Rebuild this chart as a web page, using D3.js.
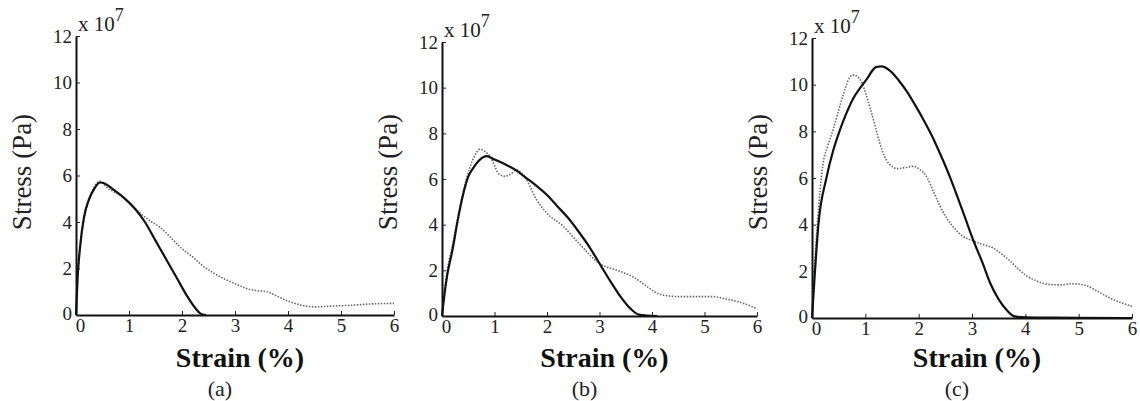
<!DOCTYPE html>
<html>
<head>
<meta charset="utf-8">
<script src="https://cdn.jsdelivr.net/npm/d3@7"></script>
<style>
  body { margin: 0; background: #fff; }
  svg text { font-family: 'Liberation Serif', 'DejaVu Serif', serif; }
</style>
</head>
<body>
<div id="chart"></div>
<script>
// tick values (strain in %, stress in units of 1e7 Pa)
const strainTicks = [0, 1, 2, 3, 4, 5, 6];
const stressTicks = [0, 2, 4, 6, 8, 10, 12];
const panelLabels = ["(a)", "(b)", "(c)"];

// [strain %, stress x1e7 Pa]
const solidA = [[0,0],[0.03,1.6],[0.08,3.0],[0.15,4.2],[0.25,5.0],[0.35,5.45],[0.45,5.7],[0.55,5.65],
  [0.7,5.4],[0.9,5.05],[1.1,4.6],[1.3,4.0],[1.5,3.2],[1.7,2.4],[1.9,1.6],[2.1,0.8],[2.25,0.3],[2.35,0.06],[2.45,0]];
const dottedA = [[0,0],[0.04,1.8],[0.1,3.3],[0.2,4.6],[0.3,5.3],[0.45,5.75],[0.6,5.45],[0.75,5.25],[0.9,5.05],
  [1.0,4.85],[1.2,4.4],[1.4,4.05],[1.6,3.75],[1.8,3.3],[2.0,2.85],[2.2,2.5],[2.4,2.1],[2.6,1.8],[2.8,1.55],
  [3.0,1.35],[3.2,1.15],[3.4,1.05],[3.6,1.0],[3.8,0.8],[4.0,0.6],[4.2,0.45],[4.5,0.35],[4.8,0.38],[5.2,0.42],
  [5.6,0.48],[6.0,0.5]];

const solidB = [[0,0],[0.05,1.0],[0.1,1.8],[0.2,2.9],[0.3,4.2],[0.4,5.3],[0.5,6.1],[0.6,6.5],[0.7,6.8],
  [0.85,7.0],[1.0,6.85],[1.2,6.65],[1.4,6.4],[1.6,6.05],[1.8,5.7],[2.0,5.3],[2.2,4.8],[2.4,4.3],[2.6,3.7],
  [2.8,3.05],[3.0,2.3],[3.2,1.55],[3.4,0.85],[3.6,0.3],[3.75,0.06],[3.9,0.02],[4.1,0]];
const dottedB = [[0,0],[0.05,1.1],[0.1,2.0],[0.2,3.1],[0.3,4.3],[0.4,5.4],[0.53,6.5],[0.62,7.0],[0.72,7.3],
  [0.82,7.2],[0.91,7.0],[1.0,6.6],[1.07,6.25],[1.2,6.12],[1.3,6.2],[1.42,6.4],[1.6,6.0],[1.8,5.1],[2.0,4.5],
  [2.3,3.95],[2.6,3.2],[3.0,2.3],[3.4,1.95],[3.65,1.7],[3.9,1.3],[4.15,0.95],[4.5,0.85],[5.15,0.85],
  [5.4,0.75],[5.6,0.65],[5.8,0.5],[6.0,0.32]];

const solidC = [[0,0],[0.05,1.8],[0.12,4.0],[0.27,6.0],[0.4,7.2],[0.53,8.1],[0.65,8.8],[0.77,9.4],[0.9,9.85],
  [1.03,10.25],[1.2,10.75],[1.3,10.78],[1.46,10.6],[1.62,10.2],[1.78,9.7],[1.94,9.1],[2.09,8.5],[2.25,7.8],
  [2.4,7.05],[2.55,6.25],[2.71,5.3],[2.87,4.3],[3.03,3.3],[3.2,2.35],[3.34,1.5],[3.5,0.8],[3.65,0.34],
  [3.75,0.12],[3.85,0.05],[4.2,0.02],[5.0,0.01],[6.0,0]];
const dottedC = [[0,0],[0.04,1.9],[0.1,4.0],[0.2,6.5],[0.3,7.4],[0.4,8.1],[0.5,8.9],[0.59,9.6],[0.68,10.2],
  [0.77,10.42],[0.85,10.35],[0.93,10.1],[1.01,9.6],[1.09,9.0],[1.17,8.35],[1.24,7.75],[1.32,7.15],[1.4,6.75],
  [1.5,6.5],[1.59,6.4],[1.75,6.45],[1.9,6.5],[2.03,6.35],[2.15,6.05],[2.28,5.4],[2.4,4.8],[2.52,4.3],
  [2.65,3.9],[2.8,3.55],[3.03,3.3],[3.2,3.15],[3.4,3.0],[3.55,2.75],[3.71,2.45],[3.87,2.1],[4.03,1.8],
  [4.2,1.6],[4.4,1.45],[4.65,1.42],[4.9,1.47],[5.15,1.38],[5.35,1.15],[5.59,0.85],[5.8,0.65],[6.0,0.5]];

const width = 1140, height = 401;

const svg = d3.select("#chart").append("svg")
  .attr("width", width)
  .attr("height", height);

svg.append("rect").attr("width", width).attr("height", height).attr("fill", "#fff");

// axes boxes for the three panels (pixel layout)
const panels = [
  { x0: 76,  x1: 394,  y0: 315, y1: 36, solid: solidA, dotted: dottedA },
  { x0: 442, x1: 757,  y0: 316, y1: 42, solid: solidB, dotted: dottedB },
  { x0: 812, x1: 1132, y0: 318, y1: 38, solid: solidC, dotted: dottedC }
];

panels.forEach((p, i) => {
  const x = d3.scaleLinear().domain([0, 6]).range([p.x0, p.x1]);
  const y = d3.scaleLinear().domain([0, 12]).range([p.y0, p.y1]);
  const g = svg.append("g");

  // x-axis
  const xAxis = g.append("g")
    .attr("transform", "translate(0," + p.y0 + ")")
    .call(d3.axisBottom(x).tickValues(strainTicks).tickFormat(d3.format("d"))
      .tickSizeInner(-4).tickSizeOuter(0).tickPadding(3));

  // y-axis
  const yAxis = g.append("g")
    .attr("transform", "translate(" + p.x0 + ",0)")
    .call(d3.axisLeft(y).tickValues(stressTicks).tickFormat(d3.format("d"))
      .tickSizeInner(-4).tickSizeOuter(0).tickPadding(4));

  [xAxis, yAxis].forEach(a => {
    a.attr("font-family", null);
    a.select(".domain").attr("stroke", "#111").attr("stroke-width", 2);
    a.selectAll(".tick line").attr("stroke", "#222").attr("stroke-width", 1);
    a.selectAll(".tick text")
      .attr("fill", "#222")
      .style("font-size", "19px");
  });
  xAxis.selectAll(".tick text").attr("dx", d => d === 0 ? 4 : 0);
  yAxis.selectAll(".tick text").attr("dy", d => d === 0 ? "0.25em" : "0.32em");

  // exponent label
  const exp = g.append("text")
    .attr("x", p.x0 + 2)
    .attr("y", p.y1 - 5)
    .attr("fill", "#222")
    .style("font-size", "21px");
  exp.append("tspan").text("x 10");
  exp.append("tspan").attr("dy", -10).style("font-size", "18px").text("7");

  // curves
  const line = d3.line()
    .x(d => x(d[0]))
    .y(d => y(d[1]))
    .curve(d3.curveMonotoneX);

  g.append("path")
    .datum(p.dotted)
    .attr("d", line)
    .attr("fill", "none")
    .attr("stroke", "#666")
    .attr("stroke-width", 1.6)
    .attr("stroke-dasharray", "1.5,1.5");

  g.append("path")
    .datum(p.solid)
    .attr("d", line)
    .attr("fill", "none")
    .attr("stroke", "#111")
    .attr("stroke-width", 2.2);

  // axis titles
  const mid = (p.x0 + p.x1) / 2;
  g.append("text")
    .attr("transform", "translate(" + (p.x0 - 45) + ",172) rotate(-90)")
    .attr("text-anchor", "middle")
    .attr("fill", "#222")
    .style("font-size", "27px")
    .text("Stress (Pa)");

  g.append("text")
    .attr("x", mid + 5)
    .attr("y", 367)
    .attr("text-anchor", "middle")
    .attr("fill", "#111")
    .style("font-size", "28px")
    .style("font-weight", "bold")
    .text("Strain (%)");

  g.append("text")
    .attr("x", mid - 15)
    .attr("y", 396)
    .attr("text-anchor", "middle")
    .attr("fill", "#222")
    .style("font-size", "22px")
    .text(panelLabels[i]);
});
</script>
</body>
</html>
